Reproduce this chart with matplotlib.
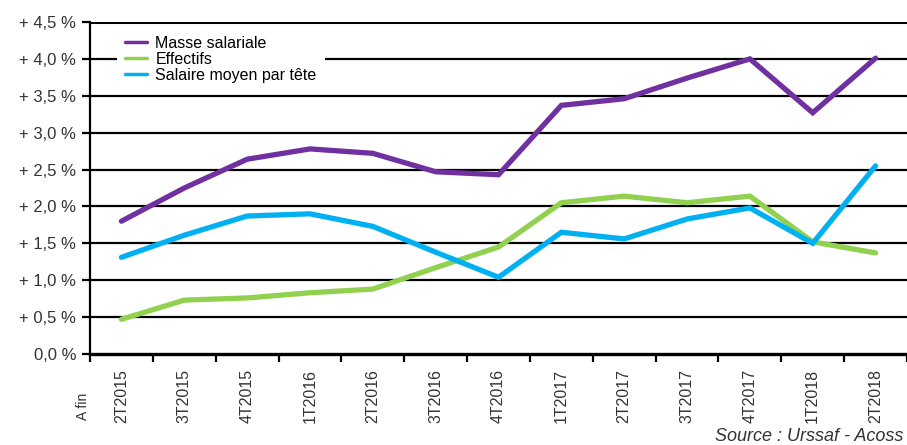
import matplotlib
matplotlib.use('Agg')
import matplotlib.pyplot as plt

plt.rcParams['font.family'] = ['Liberation Sans', 'DejaVu Sans']

quarters = ['2T2015', '3T2015', '4T2015', '1T2016', '2T2016', '3T2016', '4T2016',
            '1T2017', '2T2017', '3T2017', '4T2017', '1T2018', '2T2018']
masse = [1.80, 2.25, 2.64, 2.78, 2.72, 2.47, 2.43, 3.37, 3.46, 3.74, 4.00, 3.27, 4.01]
effectifs = [0.47, 0.73, 0.76, 0.83, 0.88, 1.17, 1.45, 2.05, 2.14, 2.05, 2.14, 1.52, 1.37]
salaire = [1.31, 1.61, 1.87, 1.90, 1.73, 1.38, 1.04, 1.65, 1.56, 1.83, 1.98, 1.50, 2.55]
yticks = [0, 0.5, 1, 1.5, 2, 2.5, 3, 3.5, 4, 4.5]
ytick_labels = ['0,0 %', '+ 0,5 %', '+ 1,0 %', '+ 1,5 %', '+ 2,0 %',
                '+ 2,5 %', '+ 3,0 %', '+ 3,5 %', '+ 4,0 %', '+ 4,5 %']

W, H = 907, 445
fig = plt.figure(figsize=(W / 100, H / 100), dpi=100, facecolor='white')
ax = fig.add_axes([90 / W, 1 - 354 / H, 1 - 90 / W, (354 - 22) / H])

x = list(range(len(quarters)))

# gridlines behind the data, the top one a bit heavier
for v in yticks[1:]:
    ax.axhline(v, color='black', linewidth=2.2 if v == 4.5 else 1.6, zorder=1)

ax.plot(x, masse, color='#7030a0', linewidth=3.8, solid_capstyle='round',
        solid_joinstyle='miter', label='Masse salariale', zorder=3)
ax.plot(x, effectifs, color='#92d050', linewidth=3.8, solid_capstyle='round',
        solid_joinstyle='miter', label='Effectifs', zorder=3)
ax.plot(x, salaire, color='#00b0f0', linewidth=3.8, solid_capstyle='round',
        solid_joinstyle='miter', label='Salaire moyen par tête', zorder=3)

ax.set_xlim(-0.5, len(quarters) - 0.5)
ax.set_ylim(0, 4.5)

ax.spines['top'].set_visible(False)
ax.spines['right'].set_visible(False)
ax.spines['left'].set_linewidth(1.6)
ax.spines['bottom'].set_linewidth(2.4)

ax.set_yticks(yticks)
ax.set_yticklabels(ytick_labels, fontsize=12, color='#333333')
ax.tick_params(axis='y', length=6, width=1.6, pad=4)

ax.set_xticks(x)
ax.set_xticklabels(quarters, rotation=90, fontsize=11.5, color='#333333')
ax.set_xticks([i - 0.5 for i in range(len(quarters) + 1)], minor=True)
ax.tick_params(axis='x', which='major', length=0, pad=11)
ax.tick_params(axis='x', which='minor', length=6, width=1.6)

fig.text(83 / W, 1 - 420 / H, 'A fin', rotation=90, ha='center', va='bottom',
         fontsize=10, color='#333333')

leg = ax.legend(loc='upper left', bbox_to_anchor=(117 / W, 1 - 28 / H),
                bbox_transform=fig.transFigure, fontsize=11.5, frameon=True,
                facecolor='white', edgecolor='none', framealpha=1, fancybox=False,
                handlelength=1.4, handletextpad=0.5, labelspacing=0.05,
                borderpad=0.5, borderaxespad=0)
leg.set_zorder(4)
for line in leg.get_lines():
    line.set_linewidth(2.5)

fig.text(903 / W, 1 - 441 / H, 'Source : Urssaf - Acoss', fontsize=13,
         style='italic', color='#333333', ha='right', va='baseline')

fig.savefig('out.png', dpi=100, facecolor='white')
